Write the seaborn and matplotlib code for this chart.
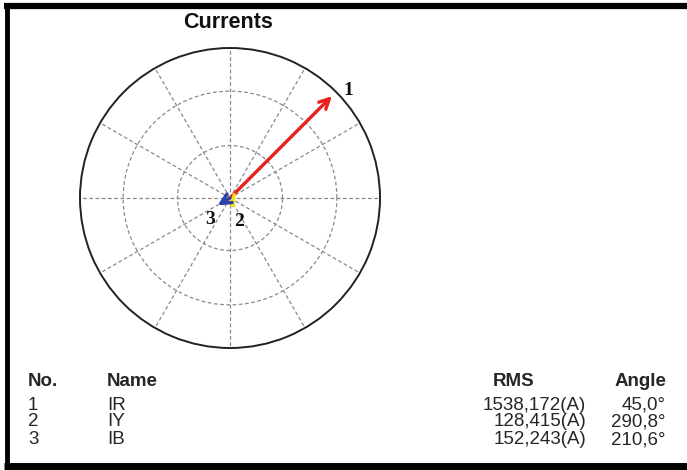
import numpy as np
import matplotlib
matplotlib.use("Agg")
import matplotlib.pyplot as plt
import seaborn as sns
from matplotlib.lines import Line2D

# phasor data
numbers = ["1", "2", "3"]
names = ["IR", "IY", "IB"]
rms = [1538.172, 128.415, 152.243]
angles = [45.0, 290.8, 210.6]
colors = ["#e8201e", "#f2e21a", "#2a3fb0"]

rmax = 1600
rings = [560, 1140]

sns.set_theme(style="white")
plt.rcParams['font.family'] = ['Liberation Sans', 'DejaVu Sans']

W, H = 687, 470
fig = plt.figure(figsize=(W / 100, H / 100), dpi=100)

def fx(x):
    return x / W

def fy(y):
    return 1 - y / H

# polar axes: center (230,198), radius 150 px
ax = fig.add_axes([fx(80), fy(348), 300 / W, 300 / H], projection='polar')
ax.set_ylim(0, rmax)
ax.set_yticks(rings)
ax.set_xticks(np.radians(np.arange(0, 360, 30)))
ax.set_xticklabels([])
ax.set_yticklabels([])
ax.grid(True, color='#8a8a8a', linestyle=(0, (3, 2)), linewidth=0.9)
ax.spines['polar'].set_color('#222222')
ax.spines['polar'].set_linewidth(1.4)
ax.set_facecolor('white')

# label offsets in pixels (layout only)
label_off = [(16, 6), (5, -12), (-8, -14)]

for i in range(len(rms)):
    th = np.radians(angles[i])
    ax.annotate("", xy=(th, rms[i]), xytext=(0, 0),
                arrowprops=dict(arrowstyle='->', color=colors[i], lw=2.4,
                                mutation_scale=18, shrinkA=0, shrinkB=0))
    dx, dy = label_off[i]
    ax.annotate(numbers[i], xy=(th, rms[i]), xytext=(dx * 0.72, dy * 0.72),
                textcoords='offset points', ha='center', va='center',
                fontsize=14, fontweight='bold', family='Liberation Serif',
                color='#111111', annotation_clip=False)

fig.text(fx(228), fy(22), "Currents", ha='center', va='center',
         fontsize=15.5, fontweight='bold', color='#111111')

# table
fs = 13.5
hy = 382
fig.text(fx(28), fy(hy), "No.", ha='left', va='center', fontsize=fs, fontweight='bold')
fig.text(fx(107), fy(hy), "Name", ha='left', va='center', fontsize=fs, fontweight='bold')
fig.text(fx(514), fy(hy), "RMS", ha='center', va='center', fontsize=fs, fontweight='bold')
fig.text(fx(640), fy(hy), "Angle", ha='center', va='center', fontsize=fs, fontweight='bold')

row_y = [405, 422, 440]
for i in range(len(rms)):
    y = fy(row_y[i])
    fig.text(fx(28), y, numbers[i], ha='left', va='center', fontsize=fs)
    fig.text(fx(107), y, names[i], ha='left', va='center', fontsize=fs)
    fig.text(fx(586), y, f"{rms[i]:.3f}(A)".replace('.', ','), ha='right', va='center', fontsize=fs)
    fig.text(fx(666), y, f"{angles[i]:.1f}°".replace('.', ','), ha='right', va='center', fontsize=fs)

# frame
fig.add_artist(Line2D([fx(4), 1], [fy(6), fy(6)], color='black', lw=4.5, solid_capstyle='butt'))
fig.add_artist(Line2D([fx(7), fx(7)], [fy(4), fy(467)], color='black', lw=3.5, solid_capstyle='butt'))
fig.add_artist(Line2D([fx(4), 1], [fy(466), fy(466)], color='black', lw=5, solid_capstyle='butt'))

fig.savefig("out.png", dpi=100, facecolor='white')
